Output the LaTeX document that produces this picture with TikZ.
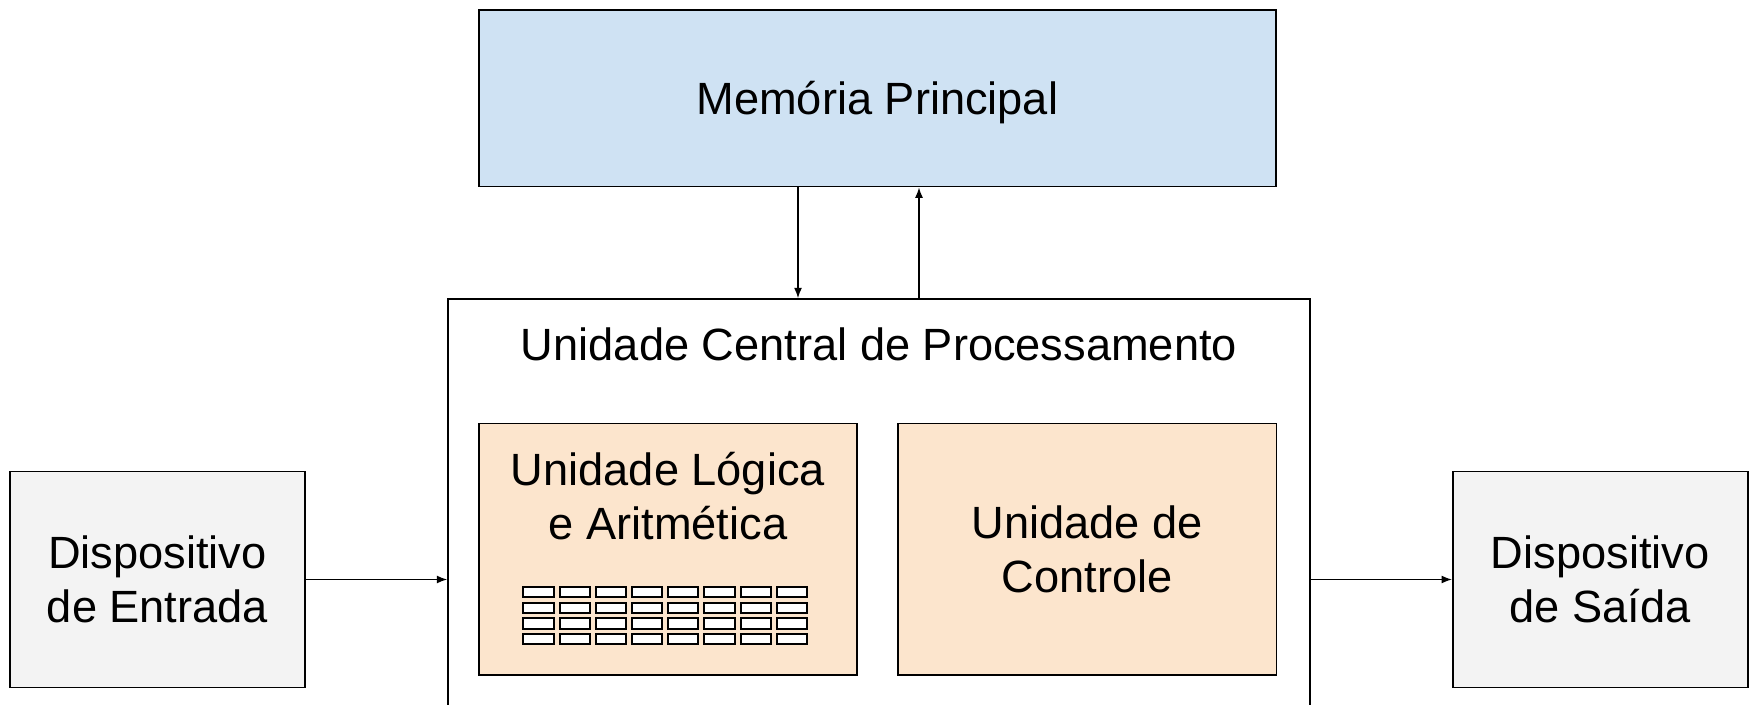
\documentclass[tikz,border=0pt]{standalone}
\usepackage{fontspec}
\setmainfont{Liberation Sans}
\usetikzlibrary{arrows.meta}

\definecolor{memblue}{RGB}{207,226,243}
\definecolor{unitorange}{RGB}{252,229,205}
\definecolor{devgray}{RGB}{243,243,243}

% one text line whose box runs from the cap height down to the baseline
\newcommand{\capline}[1]{\rule{0pt}{16.2pt}\smash{#1}}

\begin{document}
\begin{tikzpicture}[x=0.5pt,y=-0.5pt,
  font=\fontsize{22.6}{27.2}\selectfont,
  box/.style={draw=black,line width=0.8pt,rectangle,align=center,inner sep=0pt},
  unitbox/.style={box,fill=unitorange,minimum width=189.15pt,minimum height=125.85pt},
  devbox/.style={box,fill=devgray,minimum width=147.5pt,minimum height=107.8pt},
  flow/.style={line width=0.7pt,-{Latex[length=5.2pt,width=4pt]}},
  reg/.style={draw=black,line width=1pt,fill=white},
  title/.style={align=center,inner sep=0pt}]
\useasboundingbox (0,0) rectangle (1752,705);
\clip (0,0) rectangle (1752,705);
\fill[white] (0,0) rectangle (1752,705);

% main memory
\node[box,fill=memblue,minimum width=398.65pt,minimum height=88.35pt] (mem) at (877.4,98.3)
  {\capline{Memória Principal}};

% processor frame (its lower edge runs past the page)
\node[box,fill=white,minimum width=431pt,minimum height=220.5pt] (cpu) at (879,519.5) {};
\node[title] (cputitle) at (879,344.7) {\capline{Unidade Central de Processamento}};

% arithmetic-logic unit and control unit
\node[unitbox] (ula) at (667.9,549.2) {};
\node[title] (ulatitle) at (667.9,496.5) {\capline{Unidade Lógica}\\\capline{e Aritmética}};
\node[unitbox] (uc) at (1087.3,549.2) {\capline{Unidade de}\\\capline{Controle}};

% register bank inside the ALU
\foreach \c in {0,...,7}
  \foreach \r in {0,...,3}
    \draw[reg] ({522.3+36.2*\c+1},{585.7+15.9*\r+1}) rectangle +(30.3,10);

% input and output devices
\node[devbox] (ent) at (157.5,579.5) {\capline{Dispositivo}\\\capline{de Entrada}};
\node[devbox] (sai) at (1600.2,579.5) {\capline{Dispositivo}\\\capline{de Saída}};

% data paths
\coordinate (down) at (798,0);
\coordinate (up) at (919,0);
\draw[flow] (mem.south -| down) -- (cpu.north -| down);
\draw[flow] (cpu.north -| up) -- (mem.south -| up);
\draw[flow] (ent.east) -- (ent.east -| cpu.west);
\draw[flow] (cpu.east |- sai.west) -- (sai.west);
\end{tikzpicture}
\end{document}
